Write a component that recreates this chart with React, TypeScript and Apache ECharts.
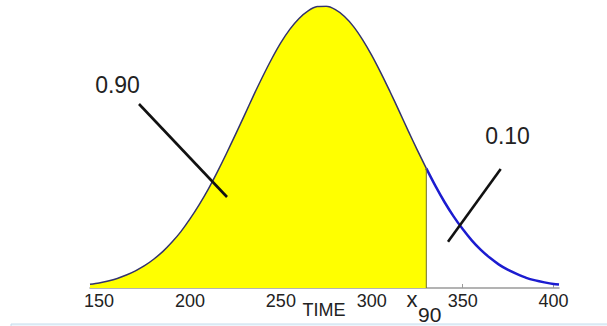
import React, { useEffect, useRef } from "react";
import * as echarts from "echarts";

// Density curve (relative height, peak = 1)
const shadedX = [145, 150, 155, 160, 165, 170, 175, 180, 185, 190, 195, 200, 205, 210, 215, 220, 225, 230, 235, 240, 245, 250, 255, 260, 265, 270, 275, 280, 285, 290, 295, 300, 305, 310, 315, 320, 325, 330];
const shadedY = [0.013, 0.018, 0.025, 0.034, 0.046, 0.061, 0.079, 0.102, 0.129, 0.162, 0.2, 0.245, 0.295, 0.35, 0.411, 0.476, 0.544, 0.613, 0.683, 0.75, 0.813, 0.87, 0.918, 0.956, 0.983, 0.998, 0.999, 0.987, 0.963, 0.927, 0.88, 0.825, 0.763, 0.697, 0.628, 0.558, 0.49, 0.424];
const tailX = [330, 335, 340, 345, 350, 355, 360, 365, 370, 375, 380, 385, 390, 395, 400, 403];
const tailY = [0.424, 0.362, 0.305, 0.254, 0.209, 0.169, 0.135, 0.107, 0.083, 0.064, 0.049, 0.036, 0.027, 0.02, 0.014, 0.012];
const tickValues = [150, 200, 250, 300, 350, 400];
const x90 = 330;
const leftLabel = "0.90";
const rightLabel = "0.10";
const axisName = "TIME";

const FONT = "Liberation Sans, Arial, sans-serif";

export default function App() {
  const ref = useRef<HTMLDivElement>(null);
  useEffect(() => {
    if (!ref.current) return;
    const chart = echarts.init(ref.current, null, { renderer: "svg" });
    const shaded = shadedX.map((x, i) => [x, shadedY[i]]);
    const tail = tailX.map((x, i) => [x, tailY[i]]);
    const x90Height = shadedY[shadedY.length - 1];
    chart.setOption({
      animation: false,
      backgroundColor: "#ffffff",
      grid: { left: 90, right: 48, top: 6, bottom: 38, outerBoundsMode: "none", containLabel: false },
      xAxis: {
        type: "value",
        min: 145,
        max: 403,
        axisLine: { show: true, lineStyle: { color: "#9a9a9a", width: 1.5 } },
        axisTick: { show: true, inside: true, length: 4, customValues: tickValues, lineStyle: { color: "#9a9a9a" } },
        axisLabel: {
          customValues: tickValues,
          fontSize: 18,
          color: "#222",
          margin: 4,
          fontFamily: FONT,
        },
        splitLine: { show: false },
      },
      yAxis: { type: "value", min: 0, max: 1, show: false },
      series: [
        {
          type: "line",
          data: shaded,
          smooth: 0.3,
          symbol: "none",
          lineStyle: { color: "#33336e", width: 1.5 },
          areaStyle: { color: "#ffff00", opacity: 1 },
          z: 2,
        },
        {
          type: "line",
          data: [[x90, 0], [x90, x90Height]],
          symbol: "none",
          lineStyle: { color: "#6e6e2a", width: 1 },
          z: 3,
        },
        {
          type: "line",
          data: tail,
          smooth: 0.3,
          symbol: "none",
          lineStyle: { color: "#1c1cd0", width: 2.5 },
          z: 2,
        },
      ],
      graphic: [
        { type: "rect", shape: { x: 11, y: 324, width: 600, height: 4 }, style: { fill: "#eef6fb", stroke: "#c4dced", lineWidth: 1 }, silent: true },
        { type: "text", x: 117.5, y: 85, style: { text: leftLabel, fontSize: 23, fill: "#222", align: "center", verticalAlign: "middle", fontFamily: FONT } },
        { type: "text", x: 507.5, y: 136, style: { text: rightLabel, fontSize: 23, fill: "#222", align: "center", verticalAlign: "middle", fontFamily: FONT } },
        { type: "line", shape: { x1: 139, y1: 104, x2: 227, y2: 197 }, style: { stroke: "#111", lineWidth: 2.6 }, z: 10 },
        { type: "line", shape: { x1: 500.7, y1: 169, x2: 448, y2: 241.7 }, style: { stroke: "#111", lineWidth: 2.6 }, z: 10 },
        { type: "text", x: 324, y: 310, style: { text: axisName, fontSize: 18, fill: "#222", align: "center", verticalAlign: "middle", fontFamily: FONT } },
        { type: "text", x: 406.5, y: 299.5, style: { text: "x", fontSize: 22, fill: "#222", align: "left", verticalAlign: "middle", fontFamily: FONT } },
        { type: "text", x: 418, y: 314.3, style: { text: "90", fontSize: 21, fill: "#222", align: "left", verticalAlign: "middle", fontFamily: FONT } },
      ],
    });
    return () => chart.dispose();
  }, []);
  return <div ref={ref} style={{ width: 607, height: 326, position: "absolute", left: 0, top: 0 }} />;
}
